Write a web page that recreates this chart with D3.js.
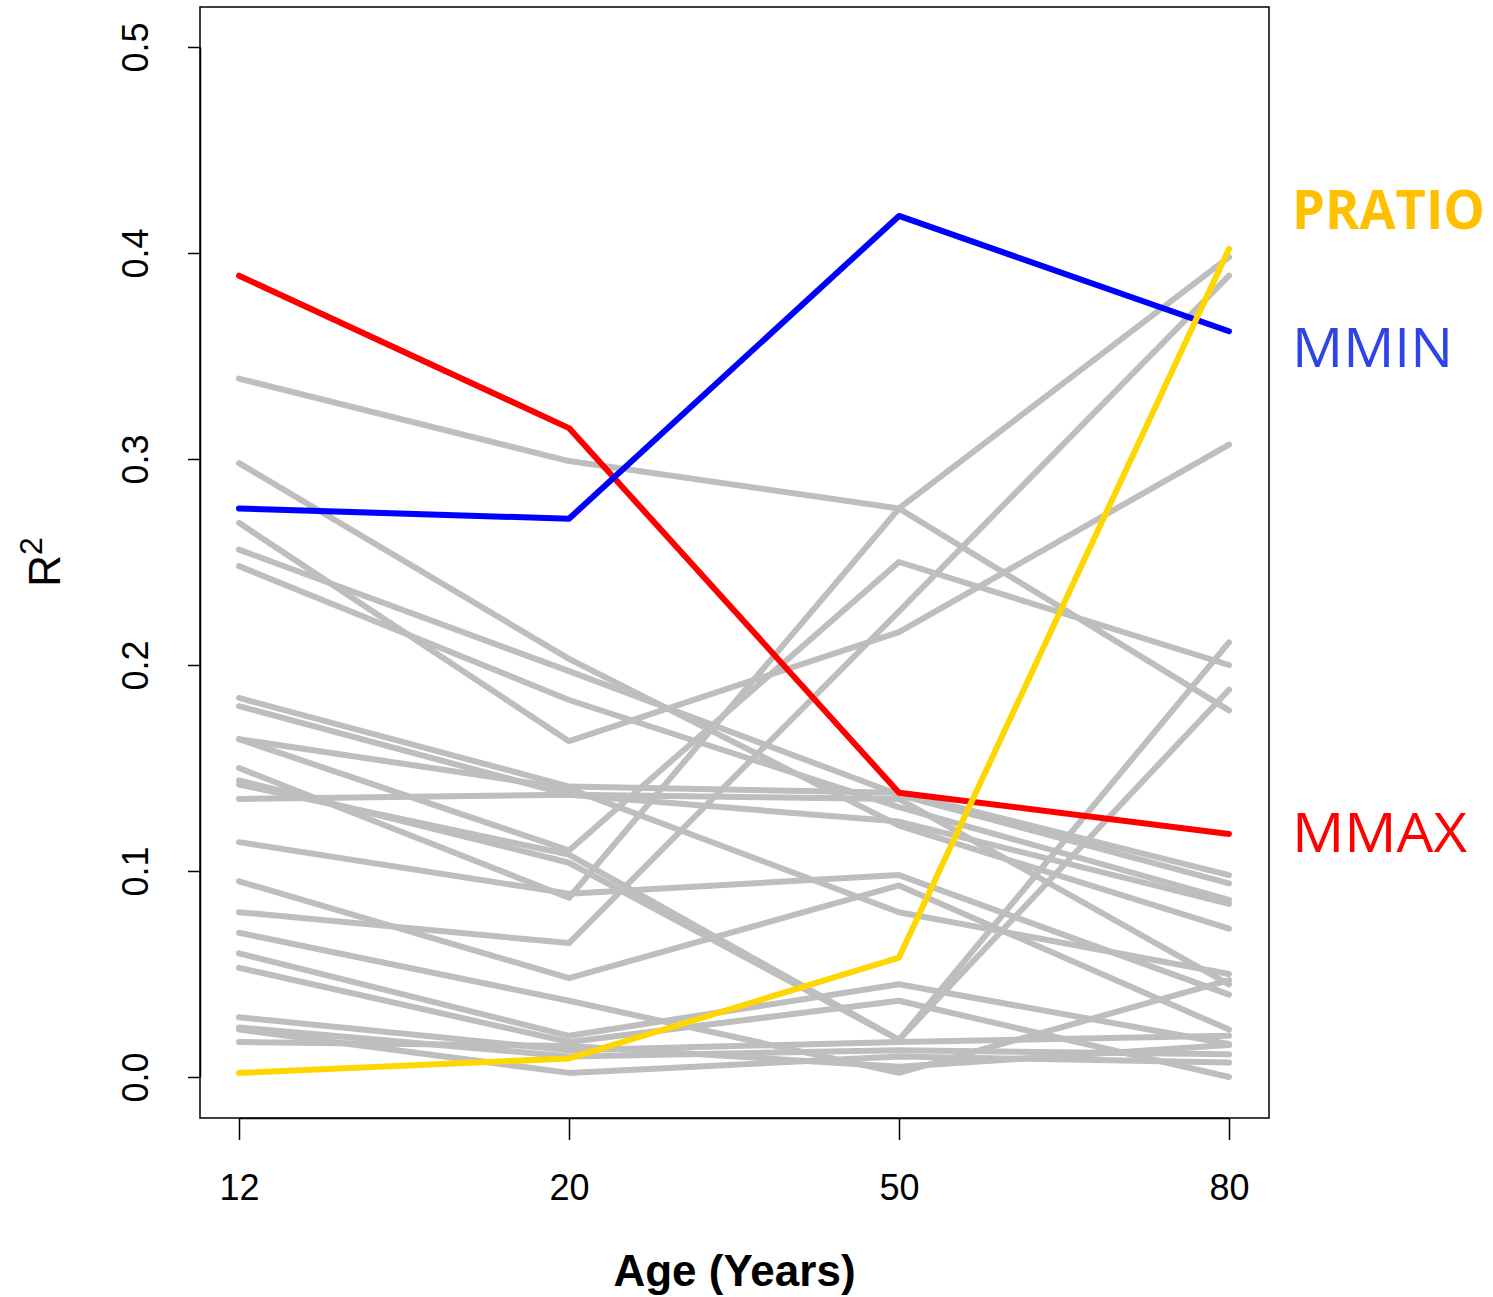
<!DOCTYPE html>
<html>
<head>
<meta charset="utf-8">
<script src="https://cdn.jsdelivr.net/npm/d3@7"></script>
<style>
  body { margin: 0; background: #fff; }
  svg { display: block; }
</style>
</head>
<body>
<div id="chart"></div>
<script>
// Ages on the x axis
const ages = ["12", "20", "50", "80"]
const yTicks = [0, 0.1, 0.2, 0.3, 0.4, 0.5]

// Highlighted traits
const mmax = [0.389, 0.315, 0.138, 0.118]
const mmin = [0.276, 0.271, 0.418, 0.362]
const pratio = [0.002, 0.009, 0.058, 0.402]

// Other traits (grey)
const others = [
  [0.339, 0.299, 0.276, 0.178],
  [0.298, 0.203, 0.122, 0.072],
  [0.269, 0.163, 0.216, 0.307],
  [0.256, 0.197, 0.137, 0.094],
  [0.248, 0.183, 0.131, 0.086],
  [0.184, 0.141, 0.138, 0.098],
  [0.180, 0.137, 0.124, 0.084],
  [0.164, 0.140, 0.080, 0.050],
  [0.164, 0.110, 0.250, 0.200],
  [0.150, 0.087, 0.276, 0.398],
  [0.144, 0.104, 0.018, 0.211],
  [0.142, 0.108, 0.018, 0.188],
  [0.135, 0.137, 0.135, 0.045],
  [0.114, 0.089, 0.098, 0.040],
  [0.095, 0.048, 0.093, 0.023],
  [0.080, 0.065, 0.226, 0.389],
  [0.070, 0.037, 0.002, 0.047],
  [0.060, 0.020, 0.045, 0.016],
  [0.053, 0.017, 0.037, 0.000],
  [0.029, 0.013, 0.017, 0.020],
  [0.024, 0.010, 0.013, 0.011],
  [0.023, 0.002, 0.010, 0.007],
  [0.017, 0.015, 0.005, 0.0155]
]

const width = 1493
const height = 1297
const box = {left: 200, right: 1269, top: 7, bottom: 1118}

const svg = d3.select("#chart")
  .append("svg")
  .attr("width", width)
  .attr("height", height)

// Scales
const xScale = d3.scalePoint()
  .domain(ages)
  .range([239, 1229])

const yScale = d3.scaleLinear()
  .domain([0, 0.5])
  .range([1077, 47])

const line = d3.line()
  .x((d, i) => xScale(ages[i]))
  .y(d => yScale(d))

// Grey lines
svg.append("g")
  .selectAll("path")
  .data(others)
  .enter()
  .append("path")
  .attr("d", line)
  .attr("fill", "none")
  .attr("stroke", "#bebebe")
  .attr("stroke-width", 6)
  .attr("stroke-linejoin", "round")
  .attr("stroke-linecap", "round")

// Coloured lines
const highlight = [
  {values: mmax, color: "#ff0000"},
  {values: mmin, color: "#0000ff"},
  {values: pratio, color: "#ffd700"}
]
svg.append("g")
  .selectAll("path")
  .data(highlight)
  .enter()
  .append("path")
  .attr("d", d => line(d.values))
  .attr("fill", "none")
  .attr("stroke", d => d.color)
  .attr("stroke-width", 6)
  .attr("stroke-linejoin", "round")
  .attr("stroke-linecap", "round")

// Box
svg.append("rect")
  .attr("x", box.left)
  .attr("y", box.top)
  .attr("width", box.right - box.left)
  .attr("height", box.bottom - box.top)
  .attr("fill", "none")
  .attr("stroke", "#000")
  .attr("stroke-width", 1.5)

// x axis
const xAxis = d3.axisBottom(xScale).tickSizeInner(22).tickSizeOuter(0).tickPadding(34)
const gx = svg.append("g")
  .attr("transform", "translate(0," + box.bottom + ")")
  .call(xAxis)
gx.select(".domain").attr("stroke-width", 1.5)
gx.selectAll(".tick line").attr("stroke-width", 1.5)
gx.selectAll("text")
  .attr("font-family", "Liberation Sans, Arial, sans-serif")
  .attr("font-size", 36)
  .attr("fill", "#000")

// y axis
const yAxis = d3.axisLeft(yScale).tickValues(yTicks).tickFormat(d3.format(".1f"))
  .tickSizeInner(12).tickSizeOuter(0)
const gy = svg.append("g")
  .attr("transform", "translate(" + box.left + ",0)")
  .call(yAxis)
gy.select(".domain").attr("stroke-width", 1.5)
gy.selectAll(".tick line").attr("stroke-width", 1.5)
gy.selectAll("text")
  .attr("font-family", "Liberation Sans, Arial, sans-serif")
  .attr("font-size", 36)
  .attr("fill", "#000")
  .attr("text-anchor", "middle")
  .attr("x", 0)
  .attr("dy", 0)
  .attr("transform", "translate(-52,0) rotate(-90)")

// Axis titles
svg.append("text")
  .attr("x", (box.left + box.right) / 2)
  .attr("y", 1286)
  .attr("text-anchor", "middle")
  .attr("font-family", "Liberation Sans, Arial, sans-serif")
  .attr("font-weight", "bold")
  .attr("font-size", 44)
  .text("Age (Years)")

const ylab = svg.append("text")
  .attr("transform", "translate(60,562) rotate(-90)")
  .attr("text-anchor", "middle")
  .attr("font-family", "Liberation Sans, Arial, sans-serif")
  .attr("font-size", 44)
ylab.append("tspan").text("R")
ylab.append("tspan").attr("font-size", 32).attr("dy", -18).text("2")

// Right-side labels
const labels = [
  {text: "PRATIO", y: 229, color: "#ffc000", weight: "bold", len: 193},
  {text: "MMIN", y: 367, color: "#2f44e8", weight: "normal", len: 161},
  {text: "MMAX", y: 852, color: "#ff0000", weight: "normal", len: 175}
]
svg.selectAll(".lab")
  .data(labels)
  .enter()
  .append("text")
  .attr("class", "lab")
  .attr("x", 1292)
  .attr("y", d => d.y)
  .attr("fill", d => d.color)
  .attr("font-weight", d => d.weight)
  .attr("font-family", "Open Sans, Noto Sans, sans-serif")
  .attr("font-size", 54)
  .attr("textLength", d => d.len)
  .attr("lengthAdjust", "spacingAndGlyphs")
  .text(d => d.text)
</script>
</body>
</html>
